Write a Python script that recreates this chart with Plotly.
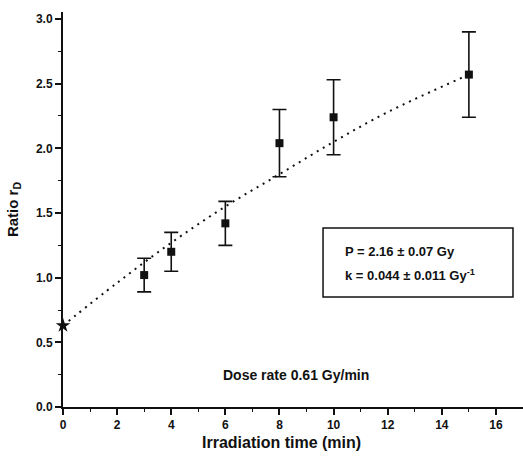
import plotly.graph_objects as go

# Data
t_points = [3, 4, 6, 8, 10, 15]
ratio_points = [1.02, 1.20, 1.42, 2.04, 2.24, 2.57]
ratio_err = [0.13, 0.15, 0.17, 0.26, 0.29, 0.33]

t_control = [0]
ratio_control = [0.63]

t_fit = [0, 2, 4, 6, 8, 10, 12, 15]
ratio_fit = [0.63, 0.96, 1.27, 1.55, 1.80, 2.05, 2.28, 2.57]

x_ticks = [0, 2, 4, 6, 8, 10, 12, 14, 16]
y_ticks = [0.0, 0.5, 1.0, 1.5, 2.0, 2.5, 3.0]

FONT = "Liberation Sans"
BLACK = "#111111"

fig = go.Figure()

fig.add_trace(go.Scatter(
    x=t_fit, y=ratio_fit, mode="lines",
    line=dict(color=BLACK, width=2, dash="2px,5px", shape="spline"),
    hoverinfo="skip", showlegend=False,
))

fig.add_trace(go.Scatter(
    x=t_points, y=ratio_points, mode="markers",
    marker=dict(symbol="square", size=8, color=BLACK),
    error_y=dict(type="data", array=ratio_err, visible=True,
                 color=BLACK, thickness=1.6, width=7),
    showlegend=False,
))

fig.add_trace(go.Scatter(
    x=t_control, y=ratio_control, mode="markers",
    marker=dict(symbol="star", size=11, color=BLACK),
    cliponaxis=False, showlegend=False,
))

fig.add_shape(type="rect", xref="x", yref="y",
              x0=9.61, x1=16.63, y0=0.85, y1=1.384,
              line=dict(color=BLACK, width=1.5), fillcolor="rgba(0,0,0,0)")

fig.add_annotation(x=10.35, y=1.205, xref="x", yref="y", xanchor="left",
                   text="P = 2.16 ± 0.07 Gy", showarrow=False,
                   font=dict(family=FONT, size=13, color=BLACK, weight="bold"))
fig.add_annotation(x=10.35, y=1.02, xref="x", yref="y", xanchor="left",
                   text="k = 0.044 ± 0.011 Gy<sup>-1</sup>", showarrow=False,
                   font=dict(family=FONT, size=13, color=BLACK, weight="bold"))
fig.add_annotation(x=8.6, y=0.25, xref="x", yref="y",
                   text="Dose rate 0.61 Gy/min", showarrow=False,
                   font=dict(family=FONT, size=14, color=BLACK, weight="bold"))
fig.add_annotation(x=0.476, y=0, xref="paper", yref="paper", yshift=-35,
                   yanchor="middle", text="Irradiation time (min)", showarrow=False,
                   font=dict(family=FONT, size=16, color=BLACK, weight="bold"))

axis_common = dict(
    showline=True, linecolor=BLACK, linewidth=2,
    ticks="outside", ticklen=6, tickwidth=1.5, tickcolor=BLACK,
    showgrid=False, zeroline=False, automargin=False,
    tickfont=dict(family=FONT, size=12, color=BLACK, weight="bold"),
    minor=dict(ticks="outside", ticklen=3, tickwidth=1.2, tickcolor=BLACK),
)

fig.update_xaxes(
    range=[0, 17], tickvals=x_ticks, ticktext=[str(v) for v in x_ticks],
    minor_dtick=1,
    **axis_common,
)
fig.update_yaxes(
    range=[0, 3.054], tickvals=y_ticks, ticktext=[f"{v:.1f}" for v in y_ticks],
    minor_dtick=0.25,
    title=dict(text="Ratio r<sub>D</sub>", standoff=14,
               font=dict(family=FONT, size=15, color=BLACK, weight="bold")),
    **axis_common,
)

fig.update_layout(
    width=523, height=458,
    margin=dict(l=63, r=0, t=12, b=51),
    plot_bgcolor="white", paper_bgcolor="white",
    font=dict(family=FONT, color=BLACK),
)

fig.write_html("out.html", config={"displayModeBar": False},
               post_script="document.body.style.margin='0';document.body.style.overflow='hidden';")
